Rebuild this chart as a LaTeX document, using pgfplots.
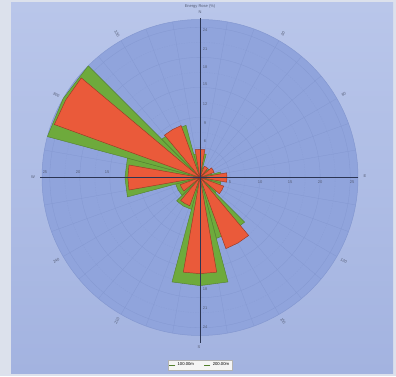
\documentclass[border=0pt]{standalone}
\usepackage{pgfplots}
\pgfplotsset{compat=1.18}
\usepgfplotslibrary{polar}
\usepackage{fontspec}
\setmainfont{Liberation Sans}
\definecolor{frame}{HTML}{DCE1EC}
\definecolor{bgtop}{HTML}{B9C6EA}
\definecolor{bgbot}{HTML}{A3B3E0}
\definecolor{disc}{HTML}{90A4DC}
\definecolor{gridc}{HTML}{7F93CC}
\definecolor{rosered}{HTML}{EA5A3A}
\definecolor{rosegreen}{HTML}{6EAA3C}
\definecolor{axisdark}{HTML}{2B3553}
\begin{document}
\begin{tikzpicture}[x=1pt,y=1pt]
\fill[frame] (0,0) rectangle (396,376);
\shade[top color=bgtop,bottom color=bgbot] (11,3) rectangle (393,373);
\fill[disc] (200,198.5) circle (158);
\begin{polaraxis}[at={(200pt,198.5pt)},anchor=center,width=316pt,height=316pt,scale only axis,
  ymin=0,ymax=26.3,
  xtick={0,10,...,350}, xticklabels={},
  ytick={5,10,...,25}, yticklabels={},
  minor ytick={2.5,7.5,...,22.5},
  grid=both,
  major grid style={draw=gridc!70!disc, line width=0.3pt},
  minor grid style={draw=gridc!50!disc, line width=0.3pt, dash pattern=on 1pt off 1.5pt},
  axis line style={draw=gridc!70!disc, line width=0.5pt},
  major tick length=0pt, minor tick length=0pt,
  legend style={at={(0.5,-0.077)},anchor=north,legend columns=2,
    font=\fontsize{4.2}{4.6}\selectfont,draw=gray!60,fill=white!92!gray,inner sep=1pt,
    /tikz/every even column/.append style={column sep=8pt}},
  legend image code/.code={\draw[#1, line width=0.8pt] (0pt,0pt) -- (6pt,0pt);}
]
% 200.00m series (green), sectors 30 deg wide, angle = 90 - bearing
\addplot[fill=rosegreen, draw=rosegreen!75!black, line width=0.4pt] coordinates {(0,0) (75,4.0) (90,4.0) (105,4.0) (0,0)};
\addplot[fill=rosegreen, draw=rosegreen!75!black, line width=0.4pt] coordinates {(0,0) (45,1.6) (60,1.6) (75,1.6) (0,0)};
\addplot[fill=rosegreen, draw=rosegreen!75!black, line width=0.4pt] coordinates {(0,0) (15,2.0) (30,2.0) (45,2.0) (0,0)};
\addplot[fill=rosegreen, draw=rosegreen!75!black, line width=0.4pt] coordinates {(0,0) (-15,3.5) (0,3.5) (15,3.5) (0,0)};
\addplot[fill=rosegreen, draw=rosegreen!75!black, line width=0.4pt] coordinates {(0,0) (-45,3.6) (-30,3.6) (-15,3.6) (0,0)};
\addplot[fill=rosegreen, draw=rosegreen!75!black, line width=0.4pt] coordinates {(0,0) (-75,10.5) (-60,10.5) (-45,10.5) (0,0)};
\addplot[fill=rosegreen, draw=rosegreen!75!black, line width=0.4pt] coordinates {(0,0) (-105,18.0) (-90,18.0) (-75,18.0) (0,0)};
\addplot[fill=rosegreen, draw=rosegreen!75!black, line width=0.4pt] coordinates {(0,0) (-135,5.5) (-120,5.5) (-105,5.5) (0,0)};
\addplot[fill=rosegreen, draw=rosegreen!75!black, line width=0.4pt] coordinates {(0,0) (-165,4.2) (-150,4.2) (-135,4.2) (0,0)};
\addplot[fill=rosegreen, draw=rosegreen!75!black, line width=0.4pt] coordinates {(0,0) (165,12.5) (180,12.5) (195,12.5) (0,0)};
\addplot[fill=rosegreen, draw=rosegreen!75!black, line width=0.4pt] coordinates {(0,0) (135,26.3) (150,26.3) (165,26.3) (0,0)};
\addplot[fill=rosegreen, draw=rosegreen!75!black, line width=0.4pt] coordinates {(0,0) (105,9.0) (120,9.0) (135,9.0) (0,0)};
% 100.00m series (red), drawn 20 deg wide
\addplot[fill=rosered, draw=rosered!65!black, line width=0.45pt] coordinates {(0,0) (80,4.7) (90,4.7) (100,4.7) (0,0)};
\addplot[fill=rosered, draw=rosered!65!black, line width=0.45pt] coordinates {(0,0) (50,2.0) (60,2.0) (70,2.0) (0,0)};
\addplot[fill=rosered, draw=rosered!65!black, line width=0.45pt] coordinates {(0,0) (20,2.5) (30,2.5) (40,2.5) (0,0)};
\addplot[fill=rosered, draw=rosered!65!black, line width=0.45pt] coordinates {(0,0) (-10,4.5) (0,4.5) (10,4.5) (0,0)};
\addplot[fill=rosered, draw=rosered!65!black, line width=0.45pt] coordinates {(0,0) (-40,4.2) (-30,4.2) (-20,4.2) (0,0)};
\addplot[fill=rosered, draw=rosered!65!black, line width=0.45pt] coordinates {(0,0) (-70,12.6) (-60,12.6) (-50,12.6) (0,0)};
\addplot[fill=rosered, draw=rosered!65!black, line width=0.45pt] coordinates {(0,0) (-100,16.0) (-90,16.0) (-80,16.0) (0,0)};
\addplot[fill=rosered, draw=rosered!65!black, line width=0.45pt] coordinates {(0,0) (-130,5.0) (-120,5.0) (-110,5.0) (0,0)};
\addplot[fill=rosered, draw=rosered!65!black, line width=0.45pt] coordinates {(0,0) (-160,3.5) (-150,3.5) (-140,3.5) (0,0)};
\addplot[fill=rosered, draw=rosered!65!black, line width=0.45pt] coordinates {(0,0) (170,12.0) (180,12.0) (190,12.0) (0,0)};
\addplot[fill=rosered, draw=rosered!65!black, line width=0.45pt] coordinates {(0,0) (140,25.8) (150,25.8) (160,25.8) (0,0)};
\addplot[fill=rosered, draw=rosered!65!black, line width=0.45pt] coordinates {(0,0) (110,9.2) (120,9.2) (130,9.2) (0,0)};
\addlegendimage{rosered}
\addlegendentry{100.00m}
\addlegendimage{rosegreen}
\addlegendentry{200.00m}
\end{polaraxis}
% cross axes
\draw[axisdark, line width=0.6pt] (40,198.5) -- (358,198.5);
\draw[axisdark, line width=0.6pt] (200,358) -- (200,33);
\begin{scope}[font=\fontsize{4}{4.5}\selectfont, text=axisdark!80]
\node at (200,370) {Energy Rose (\%)};
\node at (200,364) {N};
\node at (33,198.5) {W};
\node at (365,200) {E};
\node at (199,29) {S};
\foreach \x/\t in {230/5,260/10,290/15,320/20,352/25} \node at (\x,194) {\t};
\foreach \x/\t in {45/25,78/20,107/15} \node at (\x,204) {\t};
\foreach \y/\t in {346/24,327/21,309/18,292/15,272/12,253/9,235/6} \node at (205,\y) {\t};
\foreach \y/\t in {87/18,68/21,49/24} \node at (205,\y) {\t};
\foreach \b in {30,60,120,150} \node[rotate={90-\b}] at ({200+166*sin(\b)},{198.5+166*cos(\b)}) {\b};
\foreach \b in {210,240,300,330} \node[rotate={270-\b}] at ({200+166*sin(\b)},{198.5+166*cos(\b)}) {\b};
\end{scope}
\end{tikzpicture}
\end{document}
